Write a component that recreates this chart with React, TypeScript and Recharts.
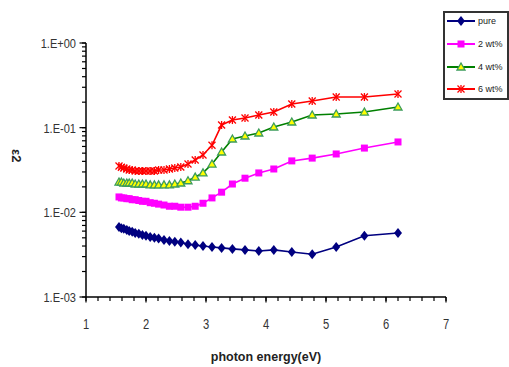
import React from "react";
import { Line, LineChart, XAxis, YAxis } from "recharts";

// photon energy (eV), one point every 20 nm from 800 nm down to 200 nm
const energy = [
  1.55, 1.59, 1.63, 1.68, 1.72, 1.77, 1.82, 1.88, 1.94, 2.0, 2.07, 2.14, 2.21, 2.3, 2.39, 2.48,
  2.58, 2.7, 2.82, 2.95, 3.1, 3.26, 3.44, 3.65, 3.88, 4.13, 4.43, 4.77, 5.17, 5.64, 6.2,
];
const pure = [
  0.0067, 0.0065, 0.0064, 0.0062, 0.006, 0.0059, 0.0057, 0.0056, 0.0054, 0.0053, 0.0051, 0.005,
  0.0049, 0.0047, 0.0046, 0.0045, 0.0044, 0.0042, 0.0041, 0.004, 0.0039, 0.0038, 0.0037, 0.0036,
  0.0035, 0.0036, 0.0034, 0.0032, 0.0039, 0.0053, 0.0057,
];
const wt2 = [
  0.0152, 0.0148, 0.0148, 0.0145, 0.0145, 0.0141, 0.0141, 0.0138, 0.0135, 0.0135, 0.013, 0.0128,
  0.0125, 0.0122, 0.0118, 0.0118, 0.0115, 0.0115, 0.0118, 0.0128, 0.0148, 0.0173, 0.0216, 0.0253,
  0.0292, 0.0325, 0.0405, 0.0437, 0.0489, 0.0574, 0.0678,
];
const wt4 = [
  0.0228, 0.0228, 0.0222, 0.0222, 0.0222, 0.0222, 0.0216, 0.0216, 0.0216, 0.0216, 0.0211, 0.0211,
  0.0211, 0.0211, 0.0211, 0.0216, 0.0222, 0.0236, 0.0261, 0.0292, 0.0372, 0.0516, 0.0735, 0.0797,
  0.0865, 0.1018, 0.1167, 0.1411, 0.145, 0.153, 0.1755,
];
const wt6 = [
  0.0352, 0.0341, 0.0334, 0.0325, 0.0316, 0.0316, 0.0308, 0.0308, 0.0308, 0.0308, 0.0308, 0.0308,
  0.0316, 0.0316, 0.0325, 0.0334, 0.0343, 0.0372, 0.0415, 0.0476, 0.062, 0.1076, 0.123, 0.13,
  0.141, 0.153, 0.1905, 0.2065, 0.23, 0.23, 0.25,
];

const xTicks = [
  1, 1.2, 1.4, 1.6, 1.8, 2, 2.2, 2.4, 2.6, 2.8, 3, 3.2, 3.4, 3.6, 3.8, 4, 4.2, 4.4, 4.6, 4.8, 5,
  5.2, 5.4, 5.6, 5.8, 6, 6.2, 6.4, 6.6, 6.8, 7,
];
const yTicks = [
  0.001, 0.002, 0.003, 0.004, 0.005, 0.006, 0.007, 0.008, 0.009, 0.01, 0.02, 0.03, 0.04, 0.05,
  0.06, 0.07, 0.08, 0.09, 0.1, 0.2, 0.3, 0.4, 0.5, 0.6, 0.7, 0.8, 0.9, 1,
];
const yMajor: Record<string, string> = {
  "0.001": "1.E-03",
  "0.01": "1.E-02",
  "0.1": "1.E-01",
  "1": "1.E+00",
};

const seriesNames = ["pure", "2 wt%", "4 wt%", "6 wt%"];
const colors = ["#000080", "#ff00ff", "#008000", "#ff0000"];

const data = energy.map((e, i) => ({ e, pure: pure[i], wt2: wt2[i], wt4: wt4[i], wt6: wt6[i] }));

const font = "'Liberation Sans', Arial, sans-serif";

function Marker({ kind, cx, cy }: { kind: number; cx: number; cy: number }) {
  if (kind === 0) {
    return (
      <polygon
        points={`${cx},${cy - 5} ${cx + 4},${cy} ${cx},${cy + 5} ${cx - 4},${cy}`}
        fill={colors[0]}
      />
    );
  }
  if (kind === 1) {
    return <rect x={cx - 3.5} y={cy - 3.5} width={7} height={7} fill={colors[1]} />;
  }
  if (kind === 2) {
    return (
      <polygon
        points={`${cx},${cy - 4} ${cx + 4},${cy + 3} ${cx - 4},${cy + 3}`}
        fill="#ffff00"
        stroke="#3c9c5c"
        strokeWidth={1.3}
      />
    );
  }
  return (
    <g stroke={colors[3]} strokeWidth={1.3}>
      <line x1={cx - 3.5} y1={cy - 3.5} x2={cx + 3.5} y2={cy + 3.5} />
      <line x1={cx - 3.5} y1={cy + 3.5} x2={cx + 3.5} y2={cy - 3.5} />
      <line x1={cx} y1={cy - 4} x2={cx} y2={cy + 4} />
    </g>
  );
}

// tick marks come from the axis (tickSize 4, margin 2); labels only on the majors
function XTick(props: any) {
  const { x, y, payload } = props;
  const major = Math.abs(payload.value - Math.round(payload.value)) < 1e-6;
  if (!major) return <g />;
  return (
    <g>
      <line x1={x} x2={x} y1={y - 6} y2={y - 0.5} stroke="#000" strokeWidth={1.2} />
      <text
        transform={`translate(${x},${y + 26}) scale(0.8,1)`}
        textAnchor="middle"
        fontSize={14}
        fill="#333"
        fontFamily={font}
      >
        {payload.value}
      </text>
    </g>
  );
}

function YTick(props: any) {
  const { x, y, payload } = props;
  const label = yMajor[String(payload.value)];
  if (!label) return <g />;
  return (
    <g>
      <line x1={x - 0.5} x2={x + 6} y1={y} y2={y} stroke="#000" strokeWidth={1.2} />
      <text
        transform={`translate(${x - 4},${y + 5}) scale(0.85,1)`}
        textAnchor="end"
        fontSize={13}
        fill="#333"
        fontFamily={font}
      >
        {label}
      </text>
    </g>
  );
}

function LegendBox() {
  const rows = [22, 45, 68, 90];
  return (
    <svg width={66} height={90} style={{ display: "block" }}>
      <rect x={1} y={1} width={64} height={87} fill="#fff" stroke="#333" strokeWidth={2} />
      {seriesNames.map((name, i) => (
        <g key={name}>
          <line x1={4} x2={32} y1={rows[i] - 12} y2={rows[i] - 12} stroke={colors[i]} strokeWidth={2} />
          <Marker kind={i} cx={18} cy={rows[i] - 12} />
          <text x={35} y={rows[i] - 9} fontSize={9} fill="#222" fontFamily={font}>
            {name}
          </text>
        </g>
      ))}
    </svg>
  );
}

export default function App() {
  const keys = ["pure", "wt2", "wt4", "wt6"];
  return (
    <div style={{ position: "absolute", left: 0, top: 0, width: 509, height: 367, background: "#fff" }}>
      <LineChart
        width={509}
        height={367}
        data={data}
        margin={{ top: 43, right: 63, left: 0, bottom: 0 }}
        style={{ fontFamily: font }}
      >
        <XAxis
          dataKey="e"
          type="number"
          domain={[1, 7]}
          ticks={xTicks}
          interval={0}
          height={70}
          tickSize={4}
          tickLine={{ stroke: "#000", strokeWidth: 1.2 }}
          axisLine={{ stroke: "#000", strokeWidth: 1.5 }}
          tick={<XTick />}
          label={{
            value: "photon energy(eV)",
            position: "insideBottom",
            offset: 6,
            fontSize: 12.5,
            fontWeight: 700,
            fill: "#222",
          }}
        />
        <YAxis
          scale="log"
          domain={[0.001, 1]}
          ticks={yTicks}
          interval={0}
          width={86}
          tickSize={4}
          tickLine={{ stroke: "#000", strokeWidth: 1.2 }}
          axisLine={{ stroke: "#000", strokeWidth: 1.5 }}
          tick={<YTick />}
          label={{
            content: (p: any) => {
              const vb = p.viewBox || { x: 0, y: 43 };
              return (
                <text
                  transform={`translate(${vb.x + 12},${vb.y + 106}) rotate(90)`}
                  fontSize={13}
                  fontWeight={700}
                  fill="#222"
                  fontFamily={font}
                >
                  ε2
                </text>
              );
            },
          }}
        />
        {keys.map((k, i) => (
          <Line
            key={k}
            dataKey={k}
            name={seriesNames[i]}
            stroke={colors[i]}
            strokeWidth={1.6}
            isAnimationActive={false}
            dot={(p: any) => <Marker key={`${k}-${p.index}`} kind={i} cx={p.cx} cy={p.cy} />}
            activeDot={false}
          />
        ))}
      </LineChart>
      <div style={{ position: "absolute", left: 443, top: 11 }}>
        <LegendBox />
      </div>
    </div>
  );
}
